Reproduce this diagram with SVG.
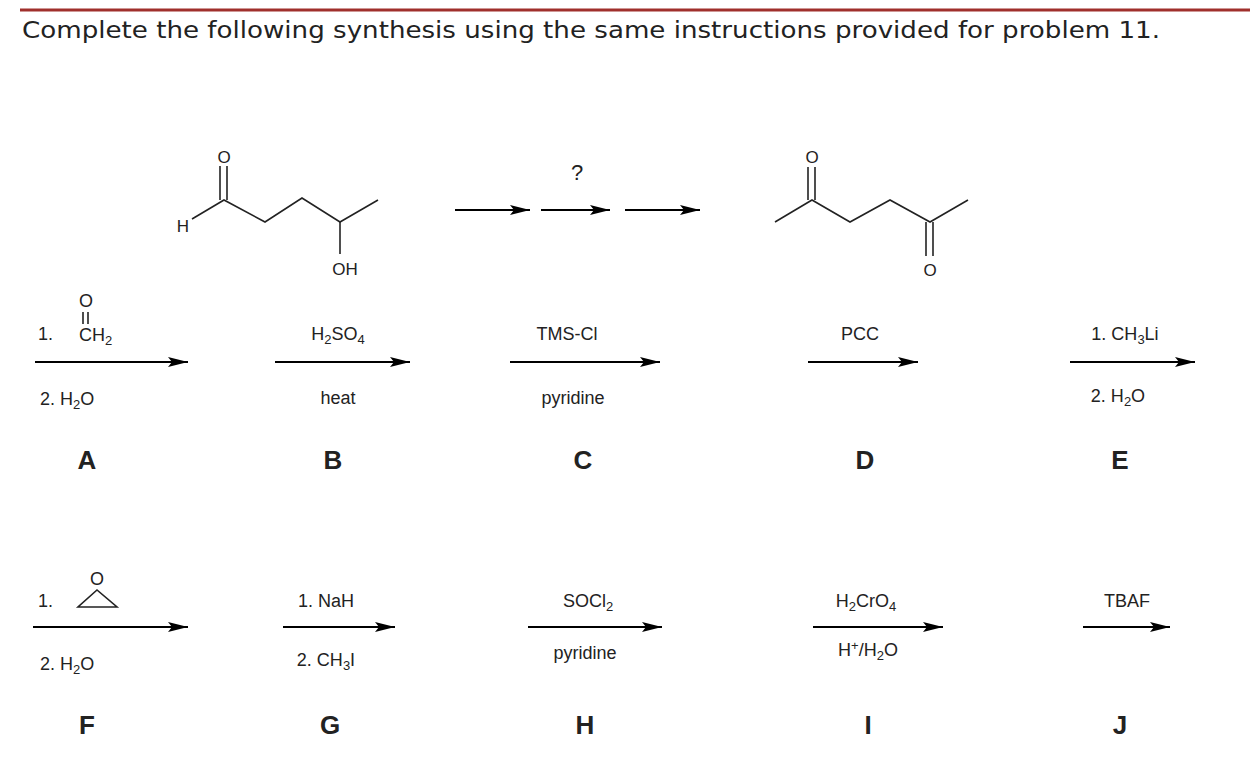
<svg xmlns="http://www.w3.org/2000/svg" width="1250" height="780" viewBox="0 0 1250 780">
<defs>
<marker id="ah" markerWidth="20" markerHeight="10" refX="20" refY="5" orient="auto" markerUnits="userSpaceOnUse"><path d="M0,0 L20,5 L0,10 L4,5 Z" fill="#000"/></marker>
</defs>
<style>
text{font-family:"Liberation Sans",Arial,sans-serif;fill:#222}
.r{font-size:18px}
.L{font-size:26px;font-weight:bold;text-anchor:middle}
.b{stroke:#222;stroke-width:1.6;fill:none}
.a{stroke:#000;stroke-width:2;fill:none;marker-end:url(#ah)}
.m{font-size:17px;text-anchor:middle}
</style>
<rect width="1250" height="780" fill="#fff"/>
<line x1="20" y1="10" x2="1250" y2="10" stroke="#a0302c" stroke-width="3"/>
<text x="22" y="38" style="font-family:'DejaVu Sans',Verdana,sans-serif;font-size:23px" textLength="1138" lengthAdjust="spacingAndGlyphs">Complete the following synthesis using the same instructions provided for problem 11.</text>
<g id="start">
<polyline class="b" points="192,219 224,200 265,222 302,198 340,222 378,200"/>
<line class="b" x1="220" y1="200" x2="220" y2="166"/><line class="b" x1="227" y1="200" x2="227" y2="166"/>
<line class="b" x1="340" y1="222" x2="340" y2="254"/>
<text class="m" x="224" y="163">O</text><text class="m" x="183" y="232">H</text><text class="m" x="345" y="275">OH</text>
</g>
<g id="target">
<polyline class="b" points="775,222 812,200 850,222 890,200 930,222 968,200"/>
<line class="b" x1="808" y1="200" x2="808" y2="167"/><line class="b" x1="815" y1="200" x2="815" y2="167"/>
<line class="b" x1="926" y1="222" x2="926" y2="256"/><line class="b" x1="933" y1="222" x2="933" y2="256"/>
<text class="m" x="812" y="163">O</text><text class="m" x="930" y="276">O</text>
</g>
<g id="connectors">
<line class="a" x1="455" y1="210" x2="530" y2="210"/>
<line class="a" x1="541" y1="210" x2="610" y2="210"/>
<line class="a" x1="625" y1="210" x2="700" y2="210"/>
<line class="a" x1="35" y1="362" x2="188" y2="362"/>
<line class="a" x1="275" y1="362" x2="410" y2="362"/>
<line class="a" x1="510" y1="362" x2="660" y2="362"/>
<line class="a" x1="808" y1="362" x2="918" y2="362"/>
<line class="a" x1="1070" y1="362" x2="1195" y2="362"/>
<line class="a" x1="33" y1="627" x2="188" y2="627"/>
<line class="a" x1="283" y1="627" x2="395" y2="627"/>
<line class="a" x1="528" y1="627" x2="662" y2="627"/>
<line class="a" x1="813" y1="627" x2="943" y2="627"/>
<line class="a" x1="1083" y1="627" x2="1170" y2="627"/>
</g>
<text x="577" y="180" text-anchor="middle" font-size="22">?</text>
<g id="A">
<text class="r" x="38" y="340">1.</text>
<text class="r" x="86" y="307" text-anchor="middle">O</text>
<line class="b" x1="83" y1="312" x2="83" y2="324"/><line class="b" x1="88" y1="312" x2="88" y2="324"/>
<text class="r" x="79" y="341">CH<tspan font-size="13" dy="4">2</tspan></text>
<text class="r" x="40" y="405">2. H<tspan font-size="13" dy="4">2</tspan><tspan dy="-4">O</tspan></text>
<text class="L" x="87" y="469">A</text>
</g>
<g id="B">
<text class="r" x="338" y="340" text-anchor="middle">H<tspan font-size="13" dy="4">2</tspan><tspan dy="-4">SO</tspan><tspan font-size="13" dy="4">4</tspan></text>
<text class="r" x="338" y="404" text-anchor="middle">heat</text>
<text class="L" x="333" y="469">B</text>
</g>
<g id="C">
<text class="r" x="567" y="340" text-anchor="middle">TMS-Cl</text>
<text class="r" x="573" y="404" text-anchor="middle">pyridine</text>
<text class="L" x="583" y="469">C</text>
</g>
<g id="D">
<text class="r" x="860" y="340" text-anchor="middle">PCC</text>
<text class="L" x="865" y="469">D</text>
</g>
<g id="E">
<text class="r" x="1125" y="340" text-anchor="middle">1. CH<tspan font-size="13" dy="4">3</tspan><tspan dy="-4">Li</tspan></text>
<text class="r" x="1118" y="402" text-anchor="middle">2. H<tspan font-size="13" dy="4">2</tspan><tspan dy="-4">O</tspan></text>
<text class="L" x="1120" y="469">E</text>
</g>
<g id="F">
<text class="r" x="38" y="607">1.</text>
<text class="r" x="97" y="585" text-anchor="middle">O</text>
<polygon class="b" points="78,607 117,607 97,590"/>
<text class="r" x="40" y="670">2. H<tspan font-size="13" dy="4">2</tspan><tspan dy="-4">O</tspan></text>
<text class="L" x="87" y="734">F</text>
</g>
<g id="G">
<text class="r" x="326" y="607" text-anchor="middle">1. NaH</text>
<text class="r" x="326" y="666" text-anchor="middle">2. CH<tspan font-size="13" dy="4">3</tspan><tspan dy="-4">I</tspan></text>
<text class="L" x="330" y="734">G</text>
</g>
<g id="H">
<text class="r" x="588" y="607" text-anchor="middle">SOCl<tspan font-size="13" dy="4">2</tspan></text>
<text class="r" x="585" y="659" text-anchor="middle">pyridine</text>
<text class="L" x="585" y="734">H</text>
</g>
<g id="I">
<text class="r" x="866" y="607" text-anchor="middle">H<tspan font-size="13" dy="4">2</tspan><tspan dy="-4">CrO</tspan><tspan font-size="13" dy="4">4</tspan></text>
<text class="r" x="868" y="656" text-anchor="middle">H<tspan font-size="13" dy="-6">+</tspan><tspan dy="6">/H</tspan><tspan font-size="13" dy="4">2</tspan><tspan dy="-4">O</tspan></text>
<text class="L" x="868" y="734">I</text>
</g>
<g id="J">
<text class="r" x="1127" y="607" text-anchor="middle">TBAF</text>
<text class="L" x="1120" y="734">J</text>
</g>
</svg>
